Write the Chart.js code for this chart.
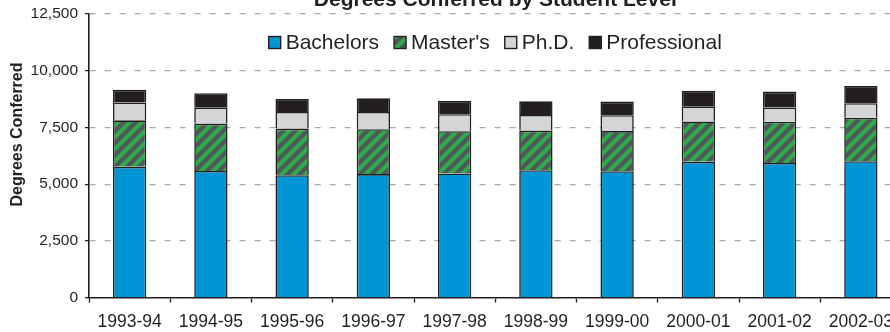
<!DOCTYPE html>
<html>
<head>
<meta charset="utf-8">
<script src="https://cdn.jsdelivr.net/npm/chart.js@4/dist/chart.umd.min.js"></script>
<style>
  html, body { margin: 0; padding: 0; background: #ffffff; overflow: hidden; }
  #wrap { width: 910px; height: 332px; }
</style>
</head>
<body>
<div id="wrap"><canvas id="chart" width="910" height="332"></canvas></div>
<script>
// Academic years on the category axis
const years = ['1993-94', '1994-95', '1995-96', '1996-97', '1997-98',
               '1998-99', '1999-00', '2000-01', '2001-02', '2002-03'];

// Degrees conferred per student level
const bachelors    = [5760, 5580, 5390, 5440, 5470, 5610, 5570, 5980, 5930, 6010];
const masters      = [2050, 2090, 2060, 1980, 1860, 1750, 1770, 1780, 1820, 1920];
const phd          = [790, 700, 730, 760, 750, 690, 700, 670, 630, 640];
const professional = [560, 640, 570, 600, 600, 600, 600, 690, 700, 750];

// Value axis tick positions
const yTicks = [0, 2500, 5000, 7500, 10000, 12500];

const INK = '#231f20';
const FONT = "'Liberation Sans', Arial, Helvetica, sans-serif";

// Diagonal green stripes on dark grey for the Master's segments
function stripePattern() {
  const s = 12;
  const c = document.createElement('canvas');
  c.width = s; c.height = s;
  const g = c.getContext('2d');
  g.fillStyle = '#4f5758';
  g.fillRect(0, 0, s, s);
  g.strokeStyle = '#2eaa4a';
  g.lineWidth = 4.2;
  g.lineCap = 'square';
  for (const k of [-s, 0, s]) {
    g.beginPath();
    g.moveTo(k, s);
    g.lineTo(k + s, 0);
    g.stroke();
  }
  const ctx = document.getElementById('chart').getContext('2d');
  return ctx.createPattern(c, 'repeat');
}

// Rotated value-axis caption
const axisCaption = {
  id: 'axisCaption',
  afterDraw(chart) {
    const ctx = chart.ctx;
    ctx.save();
    ctx.translate(18, 134.5);
    ctx.rotate(-Math.PI / 2);
    ctx.font = 'bold 16px ' + FONT;
    ctx.fillStyle = INK;
    ctx.textAlign = 'center';
    ctx.textBaseline = 'middle';
    ctx.fillText('Degrees Conferred', 0, 0);
    ctx.restore();
  }
};

// Single-row legend laid over the top of the plot area
const overlayLegend = {
  id: 'overlayLegend',
  afterDraw(chart) {
    const ctx = chart.ctx;
    const box = 12, gapText = 5, gapItem = 15, cy = 42.5;
    ctx.save();
    ctx.font = '21px ' + FONT;
    const items = chart.data.datasets.map(ds => ({
      text: ds.label, fill: ds.backgroundColor, w: ctx.measureText(ds.label).width
    }));
    const total = items.reduce((a, it) => a + box + gapText + it.w, 0) + gapItem * (items.length - 1);
    const area = chart.chartArea;
    let x = (area.left + area.right) / 2 - total / 2;
    ctx.textBaseline = 'middle';
    ctx.textAlign = 'left';
    for (const it of items) {
      ctx.fillStyle = it.fill;
      ctx.fillRect(x, cy - box / 2, box, box);
      ctx.lineWidth = 1.4;
      ctx.strokeStyle = INK;
      ctx.strokeRect(x, cy - box / 2, box, box);
      ctx.fillStyle = INK;
      ctx.fillText(it.text, x + box + gapText, cy + 0.5);
      x += box + gapText + it.w + gapItem;
    }
    ctx.restore();
  }
};

const seg = (label, data, color) => ({
  label, data,
  backgroundColor: color,
  borderColor: INK,
  borderWidth: 1.6,
  borderSkipped: 'start',
  barPercentage: 0.41,
  categoryPercentage: 1.0
});

new Chart(document.getElementById('chart'), {
  type: 'bar',
  data: {
    labels: years,
    datasets: [
      seg('Bachelors', bachelors, '#0096d6'),
      seg("Master's", masters, stripePattern()),
      seg('Ph.D.', phd, '#d4d5d7'),
      seg('Professional', professional, INK)
    ]
  },
  options: {
    responsive: false,
    animation: false,
    events: [],
    layout: { padding: { top: -12.6, left: 0, right: 8.5, bottom: 0 } },
    plugins: {
      title: {
        display: true,
        fullSize: false,
        text: 'Degrees Conferred by Student Level',
        color: INK,
        font: { family: FONT, size: 21, weight: 'bold', lineHeight: 1.2 },
        padding: { top: 0, bottom: 1.4 }
      },
      legend: { display: false },
      tooltip: { enabled: false }
    },
    scales: {
      x: {
        stacked: true,
        afterFit(scale) { scale.height = 34.5; },
        grid: {
          display: true,
          drawOnChartArea: false,
          drawTicks: true,
          tickLength: 5,
          tickColor: INK,
          tickWidth: 1.3,
          offset: true
        },
        border: { display: true, color: INK, width: 1.6 },
        ticks: {
          color: INK,
          font: { family: FONT, size: 17.5 },
          padding: 9,
          maxRotation: 0,
          autoSkip: false
        }
      },
      y: {
        stacked: true,
        min: 0,
        max: 12500,
        afterFit(scale) {
          scale.width = 89;
          scale.paddingTop = 0;
          scale.paddingBottom = 0;
        },
        afterBuildTicks(scale) { scale.ticks = yTicks.map(v => ({ value: v })); },
        grid: {
          display: true,
          color: (c) => (c.tick && c.tick.value === 0) ? 'rgba(0,0,0,0)' : '#a7a9ac',
          lineWidth: 1.2,
          drawTicks: true,
          tickLength: 4,
          tickColor: INK,
          tickWidth: 1.3,
          tickBorderDash: []
        },
        border: { display: true, color: INK, width: 1.6, dash: [6, 9] },
        ticks: {
          color: INK,
          font: { family: FONT, size: 15.5 },
          padding: 7,
          callback: (v) => Number(v).toLocaleString('en-US')
        }
      }
    }
  },
  plugins: [axisCaption, overlayLegend]
});
</script>
</body>
</html>
